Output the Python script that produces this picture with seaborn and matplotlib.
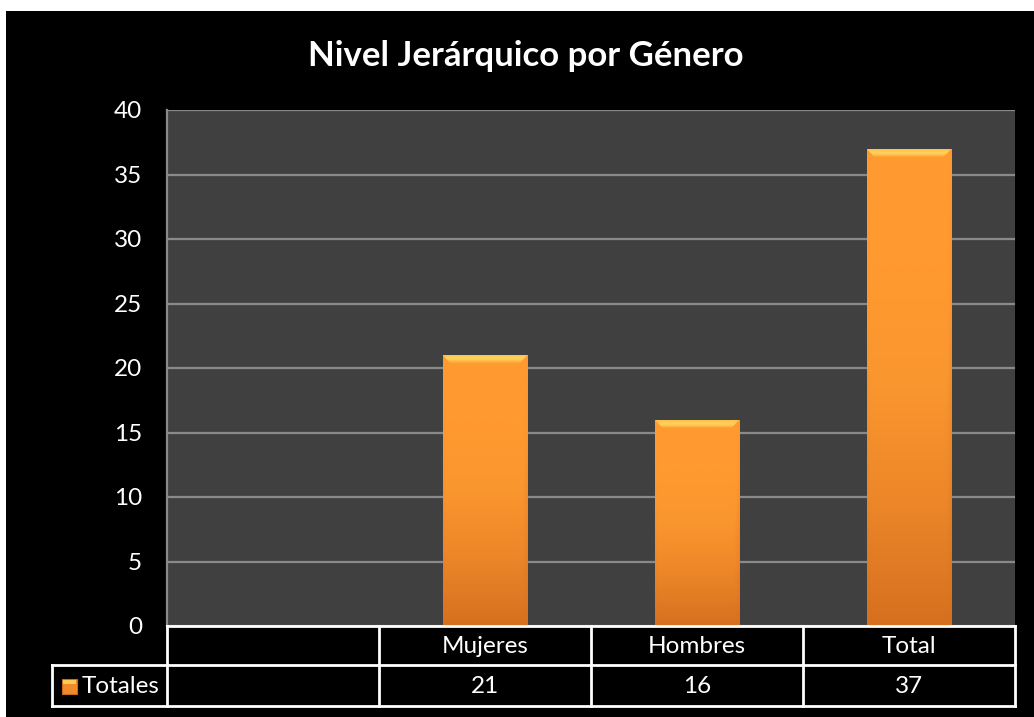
import numpy as np
import pandas as pd
import matplotlib
matplotlib.use("Agg")
import matplotlib.pyplot as plt
import seaborn as sns
from matplotlib.patches import Rectangle, Polygon
from matplotlib.colors import LinearSegmentedColormap

# ---- data ----
slots = ["", "Mujeres", "Hombres", "Total"]
categories = ["Mujeres", "Hombres", "Total"]
values = [21, 16, 37]
series_name = "Totales"
title = "Nivel Jerárquico por Género"
yticks = [0, 5, 10, 15, 20, 25, 30, 35, 40]

W, H = 1034, 717
sns.set_theme(style="dark")
plt.rcParams["font.family"] = ["Lato", "DejaVu Sans"]

fig = plt.figure(figsize=(W / 100, H / 100), dpi=100)
fig.patch.set_facecolor("white")

def fx(px):
    return px / W

def fy(py):
    return 1 - py / H

# black chart area
fig.add_artist(Rectangle((fx(6), 0), 1 - fx(6), fy(11), transform=fig.transFigure,
                         facecolor="black", edgecolor="none", zorder=-5))

L, R, T, B = 167, 1015, 110, 626
ax = fig.add_axes([fx(L), fy(B), fx(R) - fx(L), fy(T) - fy(B)])
ax.set_facecolor("#404040")

df = pd.DataFrame({"cat": categories, "val": values})
sns.barplot(data=df, x="cat", y="val", order=slots, color="#FF9A30", width=0.4,
            ax=ax, saturation=1, edgecolor="none", zorder=3)

ax.set_ylim(0, 40)
ax.set_yticks(yticks)
ax.set_xlim(-0.5, len(slots) - 0.5)
ax.set_xticks([])
ax.set_xlabel("")
ax.set_ylabel("")
ax.yaxis.grid(True, color="#8a8a8a", linewidth=1.6, zorder=0)
ax.xaxis.grid(False)
ax.tick_params(axis="y", colors="white", labelsize=17.5, length=0, pad=18)
for s in ["top", "right", "bottom"]:
    ax.spines[s].set_visible(False)
ax.spines["left"].set_color("#8a8a8a")
ax.spines["left"].set_linewidth(1.6)

# gradient fill on the bars
cmap = LinearSegmentedColormap.from_list("og", ["#D6701F", "#EC8629", "#FA962E", "#FF9A30", "#FF9A30"])
ny, nx = 200, 60
vert = np.linspace(0, 1, ny)[:, None]
edge = np.linspace(0, 1, nx)
horiz = np.ones(nx)[None, :] - 0.3 * np.clip((edge - 0.94) / 0.06, 0, 1)[None, :] \
        - 0.12 * np.clip((0.04 - edge) / 0.04, 0, 1)[None, :]
img = vert * horiz
px_per_unit = (B - T) / 40.0
for p in ax.patches:
    x0, y0 = p.get_x(), p.get_y()
    w, h = p.get_width(), p.get_height()
    if not np.isfinite(h) or h <= 0:
        continue
    p.set_alpha(0)
    im = ax.imshow(img, cmap=cmap, vmin=0, vmax=1, origin="lower", aspect="auto",
                   extent=[x0, x0 + w, y0, y0 + h], zorder=3, interpolation="bilinear")
    clip = Rectangle((x0, y0), w, h, transform=ax.transData, facecolor="none", edgecolor="none")
    ax.add_patch(clip)
    im.set_clip_path(clip)
    # top bevel highlight (trapezoid)
    bev = 8 / px_per_unit
    inset = w * 0.09
    trap = Polygon([(x0, y0 + h), (x0 + w, y0 + h), (x0 + w - inset, y0 + h - bev),
                    (x0 + inset, y0 + h - bev)], closed=True, transform=ax.transData,
                   facecolor="none", edgecolor="none")
    ax.add_patch(trap)
    tb = np.linspace(0, 1, 30)[:, None] * np.ones(40)[None, :]
    bcm = LinearSegmentedColormap.from_list("bv", ["#FFA536", "#FFD35E", "#FFC24C"])
    im2 = ax.imshow(tb, cmap=bcm, origin="lower", aspect="auto",
                    extent=[x0, x0 + w, y0 + h - bev, y0 + h], zorder=4, interpolation="bilinear")
    im2.set_clip_path(trap)
ax.set_xlim(-0.5, len(slots) - 0.5)
ax.set_ylim(0, 40)

# title
fig.text(fx(526), fy(56), title, color="white", fontsize=25, fontweight="bold",
         ha="center", va="center")

# data table overlay
ov = fig.add_axes([0, 0, 1, 1], zorder=10)
ov.set_xlim(0, W)
ov.set_ylim(H, 0)
ov.axis("off")
ov.patch.set_alpha(0)

cols = [L + i * (R - L) / len(slots) for i in range(len(slots) + 1)]
r0, r1, r2 = 626, 665, 706
lk = dict(color="white", linewidth=2, solid_capstyle="projecting")
ov.plot([L, R], [r0, r0], **lk)
ov.plot([52, R], [r1, r1], **lk)
ov.plot([52, R], [r2, r2], **lk)
ov.plot([52, 52], [r1, r2], **lk)
for c in cols:
    ov.plot([c, c], [r0, r2], **lk)

val_map = dict(zip(categories, values))
fs = 17.5
for i, s in enumerate(slots):
    cx = (cols[i] + cols[i + 1]) / 2
    ov.text(cx, (r0 + r1) / 2 + 1, s, color="white", fontsize=fs, ha="center", va="center")
    if s in val_map:
        ov.text(cx, (r1 + r2) / 2 + 1, str(val_map[s]), color="white", fontsize=fs,
                ha="center", va="center")

# legend key
ov.add_patch(Rectangle((62, 679), 15, 15, facecolor="#F08A2A", edgecolor="#C86A1E", linewidth=0.8))
ov.add_patch(Rectangle((63, 680), 13, 4, facecolor="#FFC850", edgecolor="none"))
ov.text(82, (r1 + r2) / 2 + 1, series_name, color="white", fontsize=fs, ha="left", va="center")

fig.savefig("out.png", dpi=100, facecolor=fig.get_facecolor())
